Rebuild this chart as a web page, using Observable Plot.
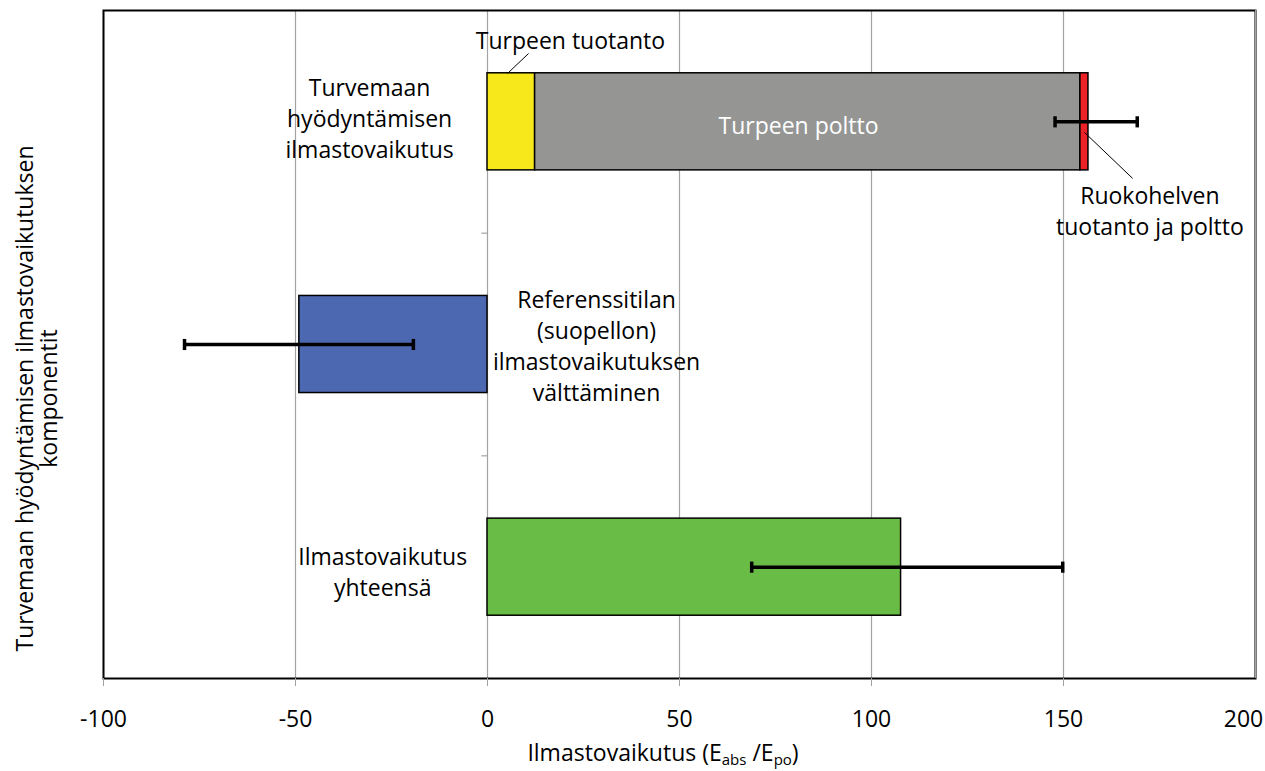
<!DOCTYPE html>
<html><head><meta charset="utf-8">
<script src="https://cdn.jsdelivr.net/npm/d3@7"></script>
<script src="https://cdn.jsdelivr.net/npm/@observablehq/plot@0.6"></script>
<style>body{margin:0;background:#fff} #chart svg{display:block}</style>
</head><body><div id="chart"></div>
<script>
// Categories (top to bottom)
const categories = [
  "Turvemaan hyödyntämisen ilmastovaikutus",
  "Referenssitilan (suopellon) ilmastovaikutuksen välttäminen",
  "Ilmastovaikutus yhteensä"
];
// Bar segments
const segName = ["Turpeen tuotanto", "Turpeen poltto", "Ruokohelven tuotanto ja poltto", "Referenssitila", "Yhteensä"];
const segCategory = [0, 0, 0, 1, 2];
const segStart = [0, 12.4, 154.4, -49.0, 0];
const segEnd = [12.4, 154.4, 156.5, 0, 107.7];
const segColor = ["#f6e81a", "#959694", "#ec2227", "#4b68b1", "#69bc46"];
// Error bars
const errCategory = [0, 1, 2];
const errLow = [147.8, -78.9, 68.8];
const errHigh = [169.2, -19.3, 149.8];
// Axis ticks
const xTicks = [-100, -50, 0, 50, 100, 150, 200];
// Annotations (x in data units, y in category units from top)
const annText = [
  "Turvemaan\nhyödyntämisen\nilmastovaikutus",
  "Referenssitilan\n(suopellon)\nilmastovaikutuksen\nvälttäminen",
  "Ilmastovaikutus\nyhteensä",
  "Turpeen tuotanto",
  "Turpeen poltto",
  "Ruokohelven\ntuotanto ja poltto"
];
const annX = [-30.7, 28.4, -27.3, 21.6, 81.0, 172.5];
const annY = [0.478, 1.500, 2.515, 0.128, 0.508, 0.893];
const annFill = ["black", "black", "black", "black", "white", "black"];
const leadX1 = [5.2, 155.5];
const leadX2 = [10.7, 168.0];
const leadY1 = [0.283, 0.548];
const leadY2 = [0.193, 0.754];

const barHalf = 0.218;
const capHalf = 0.025;
const segIdx = d3.range(segStart.length);
const errIdx = d3.range(errLow.length);
const annIdx = d3.range(annText.length);
const leadIdx = d3.range(leadX1.length);

const chart = Plot.plot({
  width: 1265,
  height: 771,
  marginLeft: 103,
  marginRight: 10,
  marginTop: 10,
  marginBottom: 93,
  style: {fontFamily: "'Open Sans', sans-serif", fontSize: "23px", background: "white", color: "black"},
  x: {domain: [-100, 200]},
  y: {domain: [3, 0], axis: null},
  color: {type: "identity"},
  marks: [
    Plot.ruleX(xTicks, {stroke: "#a3a3a3", strokeWidth: 1.2}),
    Plot.link([1, 2], {x1: -1.6, x2: 0, y1: d => d, y2: d => d, stroke: "#a3a3a3", strokeWidth: 1.2}),
    Plot.rect(segIdx, {
      x1: i => segStart[i], x2: i => segEnd[i],
      y1: i => segCategory[i] + 0.5 - barHalf, y2: i => segCategory[i] + 0.5 + barHalf,
      fill: i => segColor[i], stroke: "black", strokeWidth: 1.5
    }),
    Plot.link(errIdx, {x1: i => errLow[i], x2: i => errHigh[i], y1: i => errCategory[i] + 0.5, y2: i => errCategory[i] + 0.5, stroke: "black", strokeWidth: 3.5}),
    Plot.link(errIdx, {x1: i => errLow[i], x2: i => errLow[i], y1: i => errCategory[i] + 0.5 - capHalf, y2: i => errCategory[i] + 0.5 + capHalf, stroke: "black", strokeWidth: 3.5}),
    Plot.link(errIdx, {x1: i => errHigh[i], x2: i => errHigh[i], y1: i => errCategory[i] + 0.5 - capHalf, y2: i => errCategory[i] + 0.5 + capHalf, stroke: "black", strokeWidth: 3.5}),
    Plot.link(leadIdx, {x1: i => leadX1[i], x2: i => leadX2[i], y1: i => leadY1[i], y2: i => leadY2[i], stroke: "black", strokeWidth: 1}),
    Plot.text(annIdx, {x: i => annX[i], y: i => annY[i], text: i => annText[i], fill: i => annFill[i], textAnchor: "middle", lineHeight: 1.35, fontSize: 23}),
    Plot.text(["Turvemaan hyödyntämisen ilmastovaikutuksen\nkomponentit"], {frameAnchor: "left", textAnchor: "middle", rotate: -90, dx: -66, dy: 54, lineHeight: 1.05, fontSize: 23}),
    Plot.frame({stroke: "black", strokeWidth: 2}),
    Plot.axisX({ticks: xTicks.slice(0, -1), tickSize: 8, tickPadding: 24, stroke: "#a3a3a3", label: null, tickFormat: d => String(d), fontSize: 23}),
    Plot.tickX(xTicks.slice(-1), {x: d => d, y1: 3, y2: 3.036, stroke: "#a3a3a3"}),
    Plot.text(xTicks.slice(-1), {x: d => d, frameAnchor: "bottom", text: d => String(d), dy: 48, dx: -12, fontSize: 23, fill: "black"})
  ]
});
document.getElementById("chart").appendChild(chart);

const svg = d3.select(chart);
const xl = svg.append("text")
  .attr("x", 663).attr("y", 761)
  .attr("text-anchor", "middle")
  .attr("font-size", 23)
  .attr("fill", "black");
xl.append("tspan").text("Ilmastovaikutus (E");
xl.append("tspan").attr("font-size", 15).attr("dy", 4).text("abs");
xl.append("tspan").attr("dy", -4).text(" /E");
xl.append("tspan").attr("font-size", 15).attr("dy", 4).text("po");
xl.append("tspan").attr("dy", -4).text(")");
</script>
</body></html>
